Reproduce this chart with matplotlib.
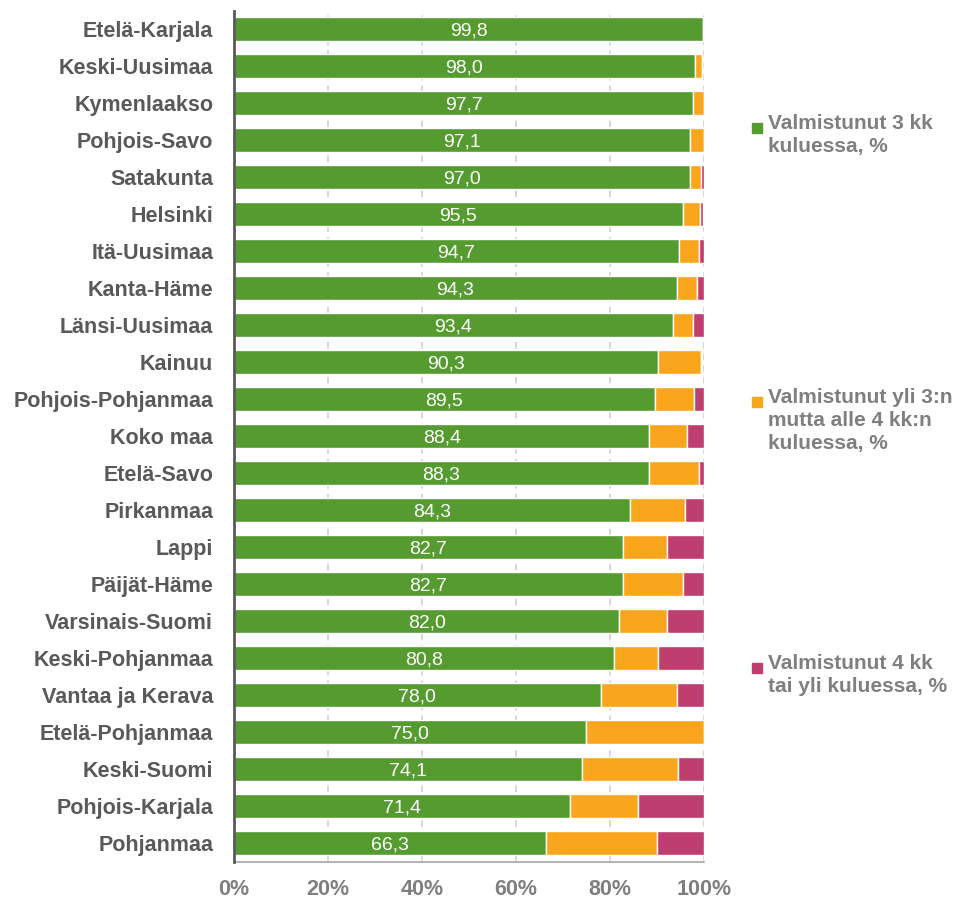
import matplotlib.pyplot as plt
from matplotlib.ticker import PercentFormatter

# Data (shares of cases, %)
regions = ['Etelä-Karjala', 'Keski-Uusimaa', 'Kymenlaakso', 'Pohjois-Savo', 'Satakunta',
           'Helsinki', 'Itä-Uusimaa', 'Kanta-Häme', 'Länsi-Uusimaa', 'Kainuu',
           'Pohjois-Pohjanmaa', 'Koko maa', 'Etelä-Savo', 'Pirkanmaa', 'Lappi',
           'Päijät-Häme', 'Varsinais-Suomi', 'Keski-Pohjanmaa', 'Vantaa ja Kerava',
           'Etelä-Pohjanmaa', 'Keski-Suomi', 'Pohjois-Karjala', 'Pohjanmaa']
within_3 = [99.8, 98.0, 97.7, 97.1, 97.0, 95.5, 94.7, 94.3, 93.4, 90.3, 89.5, 88.4, 88.3,
            84.3, 82.7, 82.7, 82.0, 80.8, 78.0, 75.0, 74.1, 71.4, 66.3]
from_3_to_4 = [0.2, 1.6, 2.3, 2.9, 2.3, 3.7, 4.3, 4.2, 4.3, 9.1, 8.4, 8.1, 10.7,
               11.6, 9.5, 12.9, 10.2, 9.4, 16.3, 25.0, 20.4, 14.5, 23.7]
over_4 = [0.0, 0.0, 0.0, 0.0, 0.7, 0.5, 1.0, 1.5, 2.3, 0.0, 2.1, 3.5, 1.0,
          4.1, 7.8, 4.4, 7.8, 9.8, 5.7, 0.0, 5.5, 14.1, 10.0]

legend_labels = ['Valmistunut 3 kk\nkuluessa, %',
                 'Valmistunut yli 3:n\nmutta alle 4 kk:n\nkuluessa, %',
                 'Valmistunut 4 kk\ntai yli kuluessa, %']

GREEN = '#559b30'
ORANGE = '#f9a61c'
MAGENTA = '#bd3e6f'
TEXT_GREY = '#595959'
LEGEND_GREY = '#7f7f7f'

plt.rcParams['font.family'] = ['Liberation Sans', 'DejaVu Sans']

fig = plt.figure(figsize=(9.68, 8.99), dpi=100)
ax = fig.add_axes([0.2417, 0.0412, 0.4855, 0.9466])

y = list(range(len(regions)))
left2 = [a / 100 for a in within_3]
left3 = [(a + b) / 100 for a, b in zip(within_3, from_3_to_4)]

ax.barh(y, [v / 100 for v in within_3], height=0.65, color=GREEN,
        edgecolor='white', linewidth=1, zorder=3)
ax.barh(y, [v / 100 for v in from_3_to_4], left=left2, height=0.65, color=ORANGE,
        edgecolor='white', linewidth=1, zorder=3)
ax.barh(y, [v / 100 for v in over_4], left=left3, height=0.65, color=MAGENTA,
        edgecolor='white', linewidth=1, zorder=3)

# value labels in the green segment
for yi, v in zip(y, within_3):
    ax.text(v / 200, yi + 0.04, f'{v:.1f}'.replace('.', ','), ha='center', va='center',
            color='white', fontsize=14, zorder=4)

ax.set_xlim(0, 1)
ax.set_ylim(len(regions) - 0.5, -0.5)
ax.set_yticks(y)
ax.set_yticklabels(regions, fontsize=15.5, fontweight='bold', color=TEXT_GREY)
ax.set_xticks([0, 0.2, 0.4, 0.6, 0.8, 1.0])
ax.xaxis.set_major_formatter(PercentFormatter(1.0, decimals=0))
for lbl in ax.get_xticklabels():
    lbl.set_fontsize(15.5)
    lbl.set_fontweight('bold')
    lbl.set_color(LEGEND_GREY)
ax.tick_params(axis='y', length=0, pad=15)
ax.tick_params(axis='x', length=0, pad=12)

ax.grid(axis='x', color='#d0d0d0', linestyle=(0, (4, 3)), linewidth=1.2, zorder=0)
ax.set_axisbelow(True)
for side in ['top', 'right']:
    ax.spines[side].set_visible(False)
ax.spines['left'].set_color('#595959')
ax.spines['left'].set_linewidth(2)
ax.spines['left'].set_zorder(5)
ax.spines['bottom'].set_color('#a6a6a6')
ax.spines['bottom'].set_linewidth(1.2)

# legend drawn by hand to match spacing
legend_y = [128, 402, 668]
for (label, col, ypix) in zip(legend_labels, [GREEN, ORANGE, MAGENTA], legend_y):
    fy = 1 - ypix / 899
    fig.patches.append(plt.Rectangle((752 / 968, fy - 5 / 899), 10 / 968, 10 / 899,
                                     transform=fig.transFigure, color=col, figure=fig))
    fig.text(768 / 968, fy + 14 / 899, label, ha='left', va='top', fontsize=15,
             fontweight='bold', color=LEGEND_GREY, linespacing=1.25)

fig.savefig('out.png', dpi=100)
